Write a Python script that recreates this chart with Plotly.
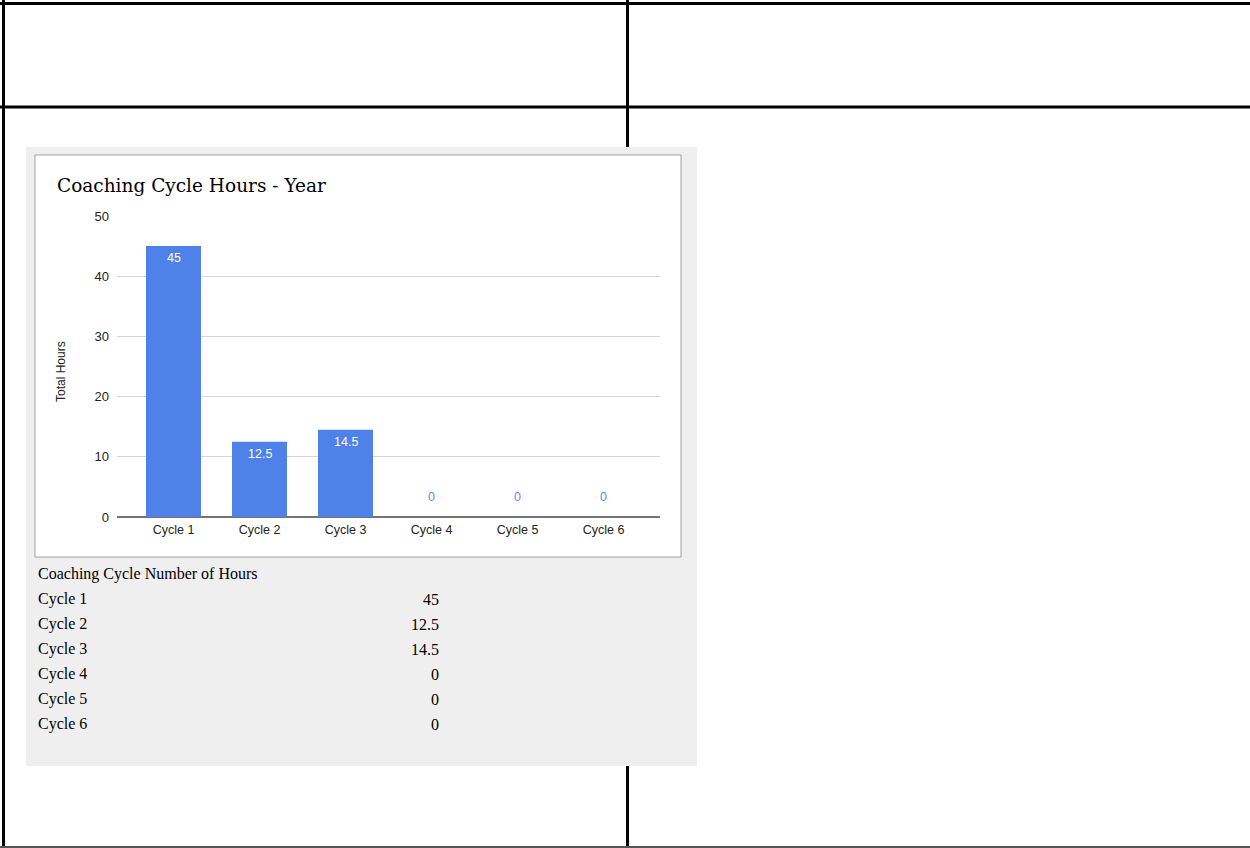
import plotly.graph_objects as go

categories = ["Cycle 1", "Cycle 2", "Cycle 3", "Cycle 4", "Cycle 5", "Cycle 6"]
hours = [45, 12.5, 14.5, 0, 0, 0]
hour_labels = ["45", "12.5", "14.5", "0", "0", "0"]
y_ticks = [0, 10, 20, 30, 40, 50]
title_text = "Coaching Cycle Hours - Year"
y_title = "Total Hours"
table_header = "Coaching Cycle Number of Hours"

W, H = 1250, 848
def px(x):
    return x / W
def py(y):
    return 1 - y / H

BAR = "#4f82e9"
SANS = "Liberation Sans, Arial"

fig = go.Figure()
fig.add_trace(go.Bar(
    x=categories, y=hours, marker=dict(color=BAR, line=dict(width=0)),
    width=0.64, hoverinfo="x+y", showlegend=False,
))

annotations = []
for c, v, t in zip(categories, hours, hour_labels):
    if v > 0:
        annotations.append(dict(x=c, y=v, xref="x", yref="y", text=t, showarrow=False,
                                yshift=-12, yanchor="middle",
                                font=dict(family=SANS, size=12.5, color="#ffffff")))
    else:
        annotations.append(dict(x=c, y=v, xref="x", yref="y", text=t, showarrow=False,
                                yshift=20, yanchor="middle",
                                font=dict(family=SANS, size=12.5, color="#5a8ef0")))

# chart title
annotations.append(dict(x=px(55), y=py(185), xref="paper", yref="paper", text=title_text,
                        showarrow=False, xanchor="left", yanchor="middle",
                        font=dict(family="DejaVu Serif, Georgia, serif", size=18.5, color="#000000")))
# y axis title
annotations.append(dict(x=px(61), y=py(372), xref="paper", yref="paper", text=y_title,
                        showarrow=False, textangle=-90, xanchor="center", yanchor="middle",
                        font=dict(family=SANS, size=12, color="#222222")))

# table under chart
serif = "Liberation Serif, Cambria, serif"
annotations.append(dict(x=px(36), y=py(574), xref="paper", yref="paper", text=table_header,
                        showarrow=False, xanchor="left", yanchor="middle",
                        font=dict(family=serif, size=16, color="#000000")))
for i, (c, t) in enumerate(zip(categories, hour_labels)):
    yy = 599 + 25 * i
    annotations.append(dict(x=px(36), y=py(yy), xref="paper", yref="paper", text=c,
                            showarrow=False, xanchor="left", yanchor="middle",
                            font=dict(family=serif, size=16, color="#000000")))
    annotations.append(dict(x=px(441), y=py(yy), xref="paper", yref="paper", text=t,
                            showarrow=False, xanchor="right", yanchor="middle",
                            font=dict(family=serif, size=16, color="#000000")))

shapes = []
def line(x0, y0, x1, y1, color="#000000", width=3):
    shapes.append(dict(type="line", xref="paper", yref="paper", x0=px(x0), y0=py(y0),
                       x1=px(x1), y1=py(y1), line=dict(color=color, width=width), layer="below"))

# document table borders
line(0, 3.5, 1250, 3.5)
line(0, 107, 1250, 107)
line(3.5, 0, 3.5, 848)
line(627.5, 0, 627.5, 848)
line(0, 847, 1250, 847, color="#555555", width=2)

# grey panel and white chart box
shapes.append(dict(type="rect", xref="paper", yref="paper", x0=px(26), y0=py(147), x1=px(697), y1=py(766),
                   fillcolor="#efefef", line=dict(width=0), layer="below"))
shapes.append(dict(type="rect", xref="paper", yref="paper", x0=px(35), y0=py(155), x1=px(681), y1=py(557),
                   fillcolor="#ffffff", line=dict(color="#a0a0a0", width=1), layer="below"))

fig.update_layout(
    width=W, height=H, autosize=False,
    margin=dict(l=0, r=0, t=0, b=0, pad=0),
    paper_bgcolor="#ffffff",
    plot_bgcolor="rgba(0,0,0,0)",
    showlegend=False,
    annotations=annotations,
    shapes=shapes,
    xaxis=dict(
        domain=[px(117), px(660)],
        range=[-0.657, 5.657],
        type="category", automargin=False,
        showgrid=False, showline=False, zeroline=False,
        ticks="", ticklabelstandoff=3,
        tickfont=dict(family=SANS, size=12.5, color="#222222"),
    ),
    yaxis=dict(
        domain=[py(517), py(216)],
        range=[0, 50], automargin=False,
        tickvals=y_ticks,
        showgrid=True, gridcolor="#d4d4d4", gridwidth=1,
        zeroline=True, zerolinecolor="#737373", zerolinewidth=2,
        showline=False, ticks="", ticklabelstandoff=7,
        tickfont=dict(family=SANS, size=13, color="#222222"),
    ),
)

fig.write_html("out.html", config={"responsive": False, "displayModeBar": False})
